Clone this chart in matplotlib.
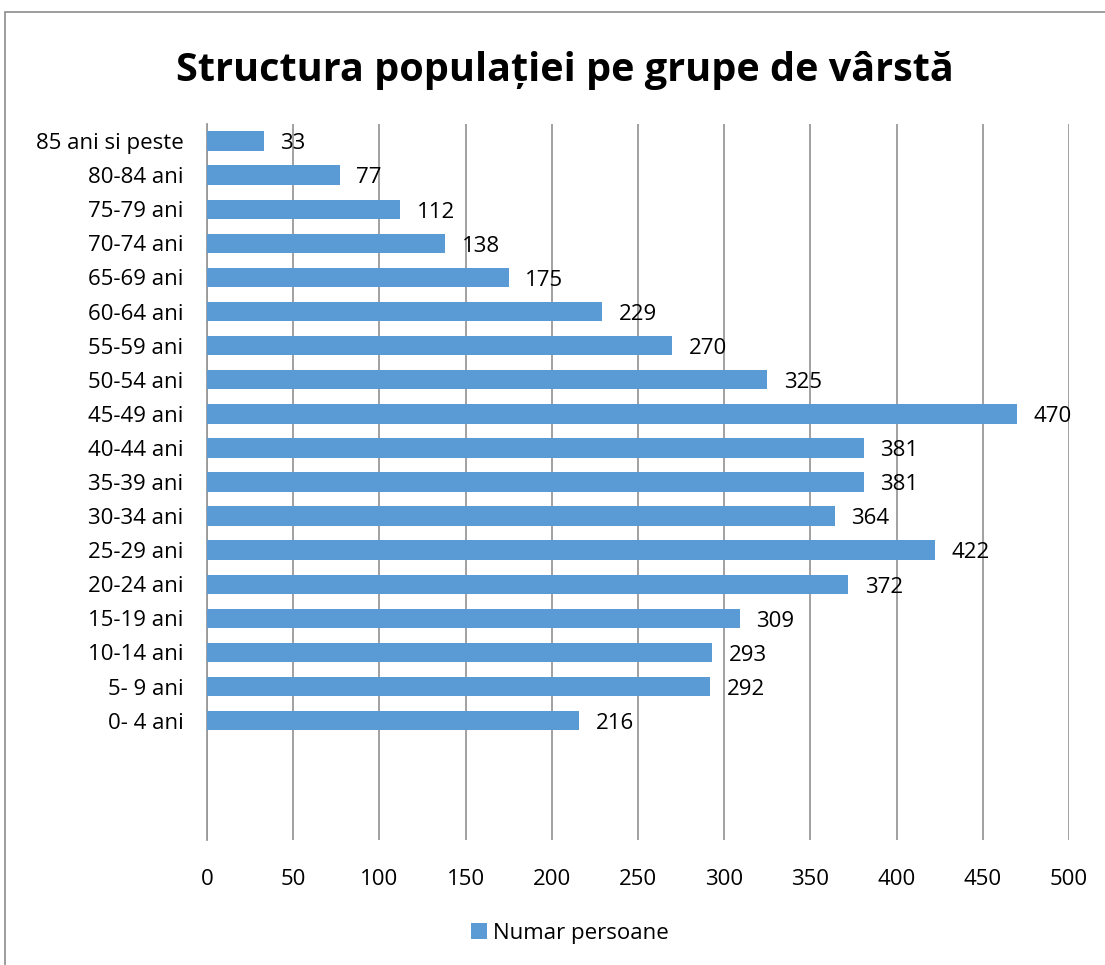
import matplotlib.pyplot as plt
from matplotlib.patches import Rectangle

groups = ["0- 4 ani", "5- 9 ani", "10-14 ani", "15-19 ani", "20-24 ani", "25-29 ani",
          "30-34 ani", "35-39 ani", "40-44 ani", "45-49 ani", "50-54 ani", "55-59 ani",
          "60-64 ani", "65-69 ani", "70-74 ani", "75-79 ani", "80-84 ani", "85 ani si peste"]
persons = [216, 292, 293, 309, 372, 422, 364, 381, 381, 470, 325, 270,
           229, 175, 138, 112, 77, 33]
xticks = [0, 50, 100, 150, 200, 250, 300, 350, 400, 450, 500]

plt.rcParams['font.family'] = ['Open Sans', 'DejaVu Sans']

fig = plt.figure(figsize=(11.05, 9.65), dpi=100)
W, H = 1105, 965
ax = fig.add_axes([207 / W, 1 - 840 / H, (1069 - 207) / W, (840 - 124) / H])

# outer chart frame
fig.patches.append(Rectangle((5 / W, -0.01), 1.02, 1 - 12 / H + 0.01,
                             transform=fig.transFigure, fill=False,
                             edgecolor='#8c8c8c', linewidth=1.2))

pos = list(range(len(groups)))
bars = ax.barh(pos, persons, height=0.57, color='#5B9BD5', zorder=3,
               label='Numar persoane')
for y, v in zip(pos, persons):
    ax.annotate(str(v), (v, y), xytext=(12, -2), textcoords='offset points',
                va='center', ha='left', fontsize=16, color='black')

ax.set_xlim(0, 500)
ax.set_ylim(-3.5, 17.5)
ax.set_xticks(xticks)
ax.set_yticks(pos)
ax.set_yticklabels(groups)
ax.tick_params(axis='both', length=0, labelsize=16, colors='black')
ax.tick_params(axis='x', pad=21)
ax.tick_params(axis='y', pad=17)
ax.grid(axis='x', color='#9a9a9a', linewidth=1.3, zorder=0)
for s in ['top', 'right', 'bottom']:
    ax.spines[s].set_visible(False)
ax.spines['left'].set_color('#9a9a9a')
ax.spines['left'].set_linewidth(1.3)

fig.text(0.511, 1 - 71 / H, 'Structura populației pe grupe de vârstă',
         ha='center', va='center', fontsize=28.5, fontweight='bold')

fig.legend(handles=[bars], labels=['Numar persoane'], loc='center',
           bbox_to_anchor=(570 / W, 1 - 933 / H), frameon=False, fontsize=16,
           handlelength=0.7, handleheight=0.7, handletextpad=0.3)

fig.savefig('out.png', dpi=100)
